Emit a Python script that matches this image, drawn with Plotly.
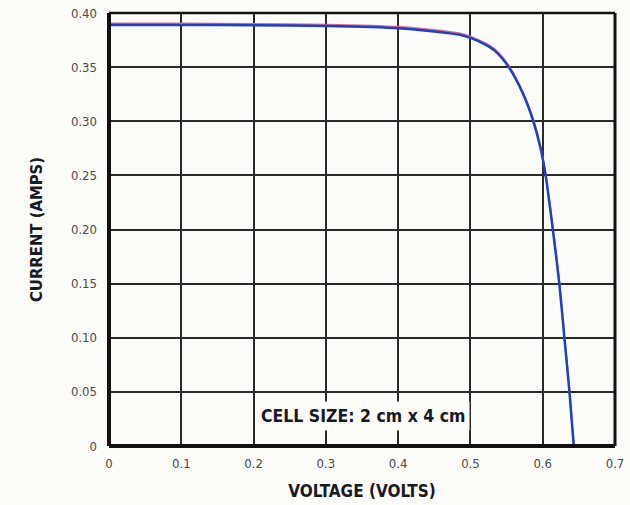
import plotly.graph_objects as go

# I-V curve of a single solar cell (voltage in volts, current in amps)
voltage = [0.0, 0.1, 0.2, 0.3, 0.4, 0.45, 0.484, 0.5, 0.52, 0.534, 0.553,
           0.573, 0.587, 0.597, 0.604, 0.614, 0.623, 0.630, 0.637, 0.643]
current = [0.389, 0.389, 0.3887, 0.388, 0.386, 0.383, 0.380, 0.377, 0.371,
           0.365, 0.350, 0.325, 0.300, 0.275, 0.250, 0.200, 0.150, 0.100,
           0.050, 0.0]
# second measured trace, lying just above the first
current_b = [0.3903, 0.3903, 0.3900, 0.3893, 0.3873, 0.3843, 0.3813, 0.3783,
             0.3723, 0.3663, 0.3513, 0.3263, 0.3013, 0.2763, 0.2513, 0.2013,
             0.1513, 0.1013, 0.0513, 0.0]

x_ticks = [0, 0.1, 0.2, 0.3, 0.4, 0.5, 0.6, 0.7]
x_labels = ["0", "0.1", "0.2", "0.3", "0.4", "0.5", "0.6", "0.7"]
y_ticks = [0, 0.05, 0.10, 0.15, 0.20, 0.25, 0.30, 0.35, 0.40]
y_labels = ["0", "0.05", "0.10", "0.15", "0.20", "0.25", "0.30", "0.35", "0.40"]

BG = "#fbfbf7"
COND = "Liberation Sans Narrow, DejaVu Sans Condensed, Arial Narrow, sans-serif"
INK = "#1a1a24"

fig = go.Figure()
fig.add_trace(go.Scatter(x=voltage, y=current_b, mode="lines",
                         line=dict(color="#dc6a90", width=1.8, shape="spline", smoothing=0.7),
                         hoverinfo="skip", showlegend=False))
fig.add_trace(go.Scatter(x=voltage, y=current, mode="lines",
                         line=dict(color="#1f3fc8", width=2.5, shape="spline", smoothing=0.7),
                         showlegend=False))

fig.add_annotation(x=0.352, y=0.028, xref="x", yref="y",
                   text="<b>CELL SIZE: 2 cm x 4 cm</b>", showarrow=False,
                   font=dict(family=COND, size=17.5, color=INK),
                   bgcolor=BG, borderpad=4)

# frame: heavy left/bottom edges, lighter top/right
fig.add_shape(type="line", xref="paper", yref="paper", x0=0, x1=0, y0=0, y1=1,
              line=dict(color="#111", width=4))
fig.add_shape(type="line", xref="paper", yref="paper", x0=0, x1=1, y0=0, y1=0,
              line=dict(color="#111", width=4))
fig.add_shape(type="line", xref="paper", yref="paper", x0=0, x1=1, y0=1, y1=1,
              line=dict(color="#111", width=2.5))
fig.add_shape(type="line", xref="paper", yref="paper", x0=1, x1=1, y0=0, y1=1,
              line=dict(color="#111", width=3))

tick_font = dict(family=COND, size=13, color="#4a4a4a")

fig.update_layout(
    width=630, height=505,
    margin=dict(l=109, r=15, t=13, b=59),
    paper_bgcolor=BG, plot_bgcolor=BG,
    xaxis=dict(range=[0, 0.7], tickvals=x_ticks, ticktext=x_labels,
               automargin=False, showgrid=True, gridcolor="#2a2a2a", gridwidth=1.5,
               zeroline=False, showline=False, ticks="", ticklabelstandoff=8,
               tickfont=tick_font,
               title=dict(text="<b>VOLTAGE (VOLTS)</b>", standoff=15,
                          font=dict(family=COND, size=17, color=INK))),
    yaxis=dict(range=[0, 0.4], tickvals=y_ticks, ticktext=y_labels,
               automargin=False, showgrid=True, gridcolor="#2a2a2a", gridwidth=1.5,
               zeroline=False, showline=False, ticks="", ticklabelstandoff=11,
               tickfont=tick_font,
               title=dict(text="<b>CURRENT (AMPS)</b>", standoff=24,
                          font=dict(family=COND, size=16.5, color=INK))),
)

fig.write_html("out.html")
